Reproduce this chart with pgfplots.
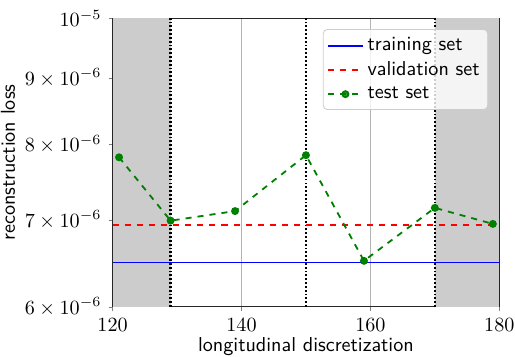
\documentclass[border=0pt]{standalone}
\usepackage{pgfplots}
\pgfplotsset{compat=1.18}
\definecolor{mplgray}{HTML}{CCCCCC}
\definecolor{mplgreen}{HTML}{008000}
\begin{document}
\begin{tikzpicture}
\begin{axis}[
  scale only axis,
  width=191.8pt, height=143.1pt,
  xmin=120, xmax=180,
  ymode=log, ymin=6e-6, ymax=1e-5,
  xtick={120,140,160,180},
  ytick={6e-6,7e-6,8e-6,9e-6,1e-5},
  yticklabels={$6\times10^{-6}$,$7\times10^{-6}$,$8\times10^{-6}$,$9\times10^{-6}$,$10^{-5}$},
  minor ytick={},
  log basis y=10,
  tick align=outside,
  tick pos=left,
  major tick length=2pt,
  xmajorgrids,
  major grid style={color=black!30, line width=0.4pt},
  axis line style={line width=0.5pt, black!85},
  xlabel={\sffamily longitudinal discretization},
  ylabel={\sffamily reconstruction loss},
  xlabel style={yshift=3.5pt},
  ylabel style={yshift=-2pt},
  legend style={at={(0.971,0.963)}, anchor=north east, font=\sffamily,
    fill=white, fill opacity=0.8, text opacity=1, draw=mplgray, rounded corners=2pt,
    row sep=0pt, inner sep=2pt},
  legend cell align=left,
  every axis plot/.append style={line width=0.9pt},
]
\addplot[draw=none, fill=mplgray, forget plot] coordinates {(120,6e-6) (129,6e-6) (129,1e-5) (120,1e-5)} -- cycle;
\addplot[draw=none, fill=mplgray, forget plot] coordinates {(170,6e-6) (180,6e-6) (180,1e-5) (170,1e-5)} -- cycle;
\addplot[black, densely dotted, line width=1.1pt, forget plot] coordinates {(129,6e-6) (129,1e-5)};
\addplot[black, densely dotted, line width=1.1pt, forget plot] coordinates {(150,6e-6) (150,1e-5)};
\addplot[black, densely dotted, line width=1.1pt, forget plot] coordinates {(170,6e-6) (170,1e-5)};
\addplot[blue, solid] coordinates {(120,6.49e-6) (180,6.49e-6)};
\addlegendentry{training set}
\addplot[red, dashed] coordinates {(120,6.94e-6) (180,6.94e-6)};
\addlegendentry{validation set}
\addplot[mplgreen, dashed, mark=*, mark size=1.5pt, mark options={solid}] coordinates {
  (121,7.82e-6) (129,6.99e-6) (139,7.11e-6) (150,7.85e-6) (159,6.51e-6) (170,7.15e-6) (179,6.95e-6)};
\addlegendentry{test set}
\end{axis}
\pgfresetboundingbox
\useasboundingbox ([xshift=-55.85pt,yshift=-24.45pt]current axis.south west) rectangle ([xshift=7.79pt,yshift=9.08pt]current axis.north east);
\end{tikzpicture}
\end{document}
